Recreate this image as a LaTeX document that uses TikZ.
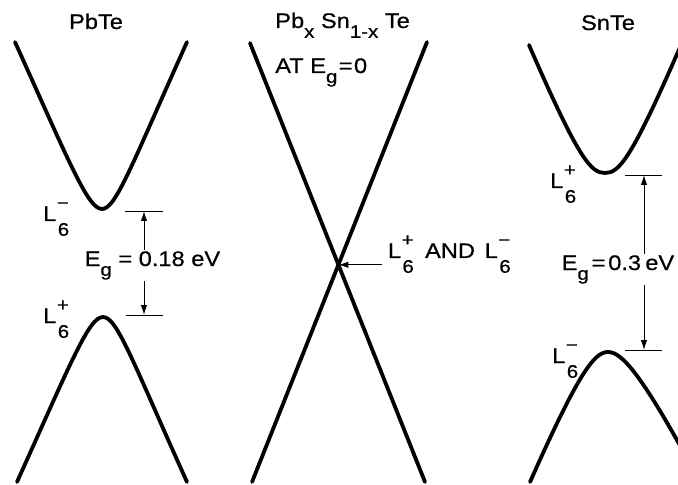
\documentclass[tikz,border=0pt]{standalone}
\usepackage{fontspec}
\setmainfont{Liberation Sans}[FakeStretch=1.12, FakeBold=0.6]
\usetikzlibrary{arrows.meta}

% L_6 with the sign stacked over the 6
\newcommand{\Lsix}[1]{L\kern1pt\raisebox{-10.5pt}{\fontsize{13}{13}\selectfont\makebox[0pt][l]{\makebox[0.556em]{\raisebox{19pt}{#1}}}6}}
\newcommand{\Eg}{E\raisebox{-7pt}{\fontsize{13}{13}\selectfont g}}
\newcommand{\lowsub}[1]{\raisebox{-7pt}{\fontsize{13}{13}\selectfont #1}}

\tikzset{
  band/.style={line width=2.7pt, line cap=round},
  level/.style={line width=0.7pt},
  gaparrow/.style={line width=0.7pt, -{Latex[length=7pt,width=4.5pt]}},
  lbl/.style={inner sep=0pt, font=\fontsize{15}{18}\selectfont},
}

\begin{document}
\begin{tikzpicture}[x=0.025cm, y=-0.025cm]
  \clip (0,0) rectangle (678,485);

  % titles
  \node[lbl, anchor=base] (tPb) at (96,29) {PbTe};
  \node[lbl, anchor=base west] (tPbSn) at (275,28) {Pb\lowsub{x} Sn\lowsub{1-x} Te};
  \node[lbl, anchor=base west] (tAt) at (275,73) {AT \Eg\kern1pt=\kern1pt0};
  \node[lbl, anchor=base] (tSn) at (608,30) {SnTe};

  % PbTe
  \draw[band] (15,42) .. controls (70,164) and (88,209) .. (102,209) .. controls (116,209) and (132,164) .. (187,42);
  \draw[band] (17,482) .. controls (72,360) and (89,317) .. (103,317) .. controls (117,317) and (132,360) .. (187,482);
  \node[lbl, anchor=base west] (lPbC) at (43,221) {\Lsix{−}};
  \node[lbl, anchor=base west] (lPbV) at (43,323) {\Lsix{+}};
  \coordinate (pbc) at (144,211);
  \coordinate (pbv) at (144,315);
  \draw[level] (pbc) ++(-19,0) -- ++(38,0);
  \draw[level] (pbv) ++(-18,0) -- ++(37,0);
  \node[lbl, anchor=base west, inner sep=1pt] (gPb) at (83,266) {\Eg\ = 0.18 eV};
  \draw[gaparrow] (gPb.north -| pbc) -- (pbc);
  \draw[gaparrow] (gPb.south -| pbv) -- (pbv);

  % Pb_x Sn_1-x Te
  \coordinate (xa) at (250,43);
  \coordinate (xb) at (427,42);
  \coordinate (xc) at (252,482);
  \coordinate (xd) at (425,482);
  \draw[band] (xa) -- (xd);
  \draw[band] (xb) -- (xc);
  \coordinate (cross) at (intersection of xa--xd and xb--xc);
  \node[lbl, anchor=base west, inner xsep=4pt] (lX) at (382,258) {\Lsix{+}\hspace{8pt}AND\hspace{7pt}\Lsix{−}};
  \draw[gaparrow] (lX.west |- cross) -- (cross);

  % SnTe
  \draw[band] (529,45) .. controls (579,160) and (591,173) .. (605,173) .. controls (619,173) and (631,160) .. (681,45);
  \draw[band] (530,482) .. controls (578,374) and (594,352) .. (608,352) .. controls (622,352) and (642,374) .. (700,482);
  \node[lbl, anchor=base west] (lSnC) at (550,188) {\Lsix{+}};
  \node[lbl, anchor=base west] (lSnV) at (552,363) {\Lsix{−}};
  \coordinate (snc) at (644,175);
  \coordinate (snv) at (644,350);
  \draw[level] (snc) ++(-19,0) -- ++(37,0);
  \draw[level] (snv) ++(-19,0) -- ++(37,0);
  \node[lbl, anchor=base west, inner sep=1pt] (gSn) at (560,270) {\Eg\kern2pt=\kern2pt0.3\kern3pt eV};
  \draw[gaparrow] (gSn.north -| snc) -- (snc);
  \draw[gaparrow] (gSn.south -| snv) -- (snv);
\end{tikzpicture}
\end{document}
